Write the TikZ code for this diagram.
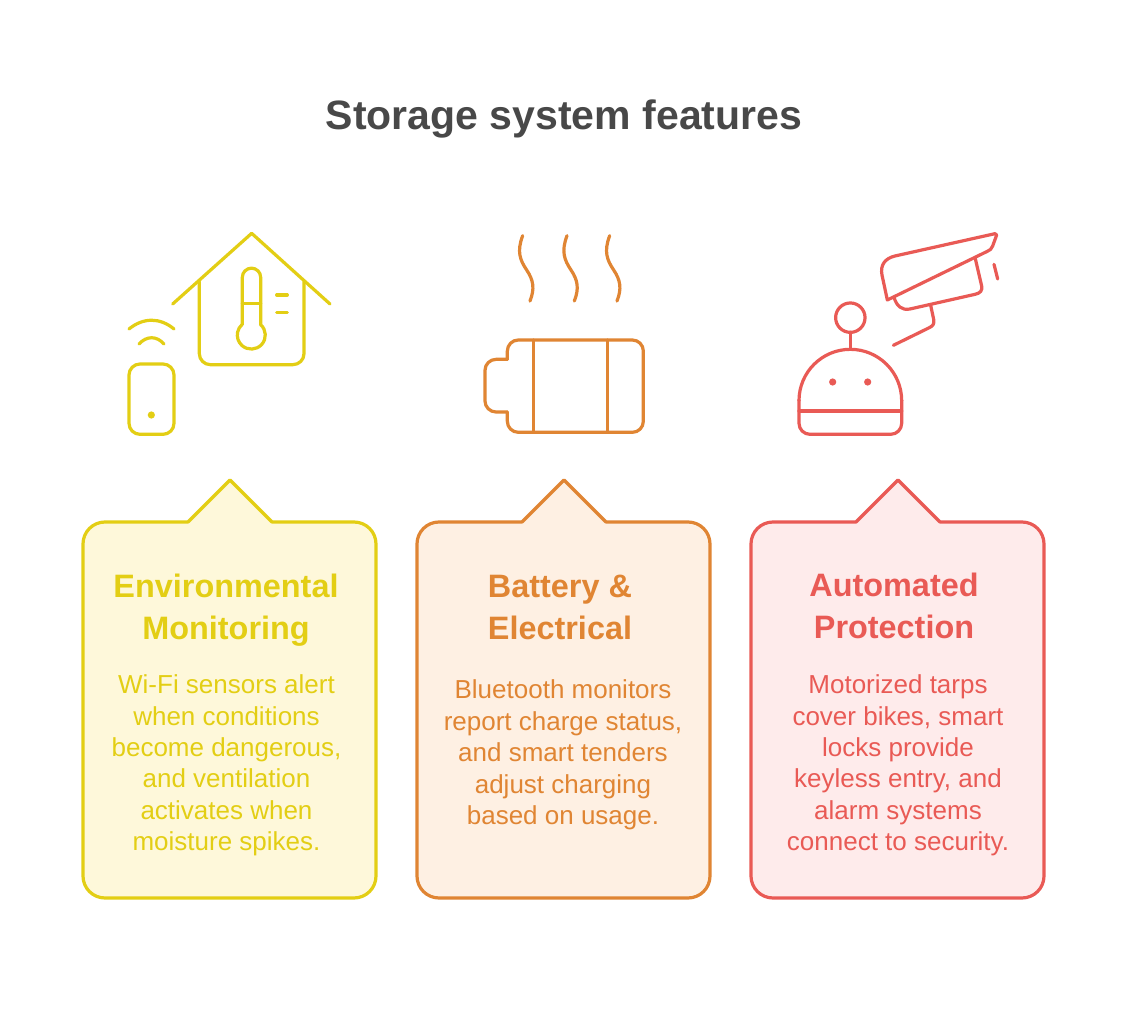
\documentclass[tikz,border=0pt]{standalone}
\usepackage{fontspec}
\setmainfont{Liberation Sans}
\definecolor{yel}{HTML}{E3CE14}
\definecolor{yelf}{HTML}{FEF8DA}
\definecolor{ora}{HTML}{E08533}
\definecolor{oraf}{HTML}{FEF0E3}
\definecolor{redd}{HTML}{E95A55}
\definecolor{redf}{HTML}{FEEBEB}
\definecolor{ink}{HTML}{484848}
\tikzset{
  icon/.style={line width=3.2pt,line cap=round,line join=round},
  zoomed/.style={x=0.33333pt,y=-0.33333pt},
  card/.style={line width=3.2pt,line join=round},
  head/.style={font=\fontsize{32.4}{42}\selectfont\bfseries,align=center,inner sep=0pt},
  body/.style={font=\fontsize{26}{31.4}\selectfont,align=center,inner sep=0pt},
  title/.style={font=\fontsize{41}{48}\selectfont\bfseries,text=ink,inner sep=0pt}
}
\begin{document}
\begin{tikzpicture}[x=1pt,y=-1pt]
\useasboundingbox (0,0) rectangle (1128,1024);
\fill[white] (0,0) rectangle (1128,1024);
\node[title] (maintitle) at (564,119) {Storage system features};

% cards
\filldraw[card,draw=yel,fill=yelf] (188,522) [rounded corners=22pt] -- (83,522) -- (83,898) -- (376,898) -- (376,522) [rounded corners=0pt] -- (272,522) -- (230,480) -- cycle;
\filldraw[card,draw=ora,fill=oraf] (522,522) [rounded corners=22pt] -- (417,522) -- (417,898) -- (710,898) -- (710,522) [rounded corners=0pt] -- (606,522) -- (564,480) -- cycle;
\filldraw[card,draw=redd,fill=redf] (856,522) [rounded corners=22pt] -- (751,522) -- (751,898) -- (1044,898) -- (1044,522) [rounded corners=0pt] -- (940,522) -- (898,480) -- cycle;

% headings and bodies
\node[head,text=yel] (h1) at (226,610) {Environmental\\Monitoring};
\node[body,text=yel] (b1) at (226.5,765.5) {Wi-Fi sensors alert\\when conditions\\become dangerous,\\and ventilation\\activates when\\moisture spikes.};
\node[head,text=ora] (h2) at (560,607) {Battery \&\\Electrical};
\node[body,text=ora] (b2) at (563,755) {Bluetooth monitors\\report charge status,\\and smart tenders\\adjust charging\\based on usage.};
\node[head,text=redd] (h3) at (894,606) {Automated\\Protection};
\node[body,text=redd] (b3) at (898,765.5) {Motorized tarps\\cover bikes, smart\\locks provide\\keyless entry, and\\alarm systems\\connect to security.};

% house icon
\begin{scope}[shift={(110pt,-220pt)},zoomed,icon,draw=yel]
\draw (188,252) -- (425,40) -- (660,252);
\draw[rounded corners=11pt] (268,185) -- (268,434) -- (582,434) -- (582,185);
\draw (397,314) -- (397,172) arc[start angle=180,end angle=360,radius=27.5] -- (452,314) arc[start angle=-48,end angle=228,radius=42];
\draw (397,250) -- (452,250);
\draw (500,225) -- (532,225);
\draw (500,277) -- (532,277);
\draw (57,327) .. controls (100,292) and (150,292) .. (192,327);
\draw (87,372) .. controls (110,347) and (140,347) .. (162,372);
\draw[rounded corners=11pt] (57,432) rectangle (192,643);
\fill[yel] (124,585) circle[radius=3.6pt];
\end{scope}

% battery icon
\begin{scope}[shift={(470pt,-220pt)},zoomed,icon,draw=ora]
\draw[rounded corners=11pt] (112,418) -- (45,418) -- (45,576) -- (112,576);
\draw[rounded corners=11pt] (112,418) -- (112,360) -- (520,360) -- (520,637) -- (112,637) -- (112,576);
\draw (190,360) -- (190,637);
\draw (412,360) -- (412,637);
\foreach \dx in {0,133,261}{
  \draw[shift={(\dx*0.33333pt,0pt)}] (158,47) .. controls (140,95) and (150,120) .. (170,150) .. controls (190,180) and (195,205) .. (180,243);
}
\end{scope}

% robot and camera icon
\begin{scope}[shift={(780pt,-220pt)},zoomed,icon,draw=redd]
\draw (211,293) circle[radius=14.7pt];
\draw (211,337) -- (211,388);
\draw[rounded corners=11pt] (57,540) -- (57,643) -- (365,643) -- (365,540);
\draw (57,542) arc[start angle=180,end angle=360,radius=154];
\draw (57,573) -- (365,573);
\fill[redd] (158,486) circle[radius=3.6pt];
\fill[redd] (263,486) circle[radius=3.6pt];
\draw (322,240) -- (306,165) .. controls (300,135) and (315,115) .. (345,108) -- (645,41) -- (650,45) -- (638,78) .. controls (634,88) and (630,90) .. (622,94) -- cycle;
\draw (342,232) .. controls (350,258) and (365,272) .. (390,267) -- (585,223) .. controls (600,220) and (608,212) .. (605,198) -- (585,112);
\draw (452,256) -- (461,298) .. controls (464,312) and (458,318) .. (448,323) -- (340,376);
\draw (642,133) -- (653,177);
\end{scope}
\end{tikzpicture}
\end{document}
